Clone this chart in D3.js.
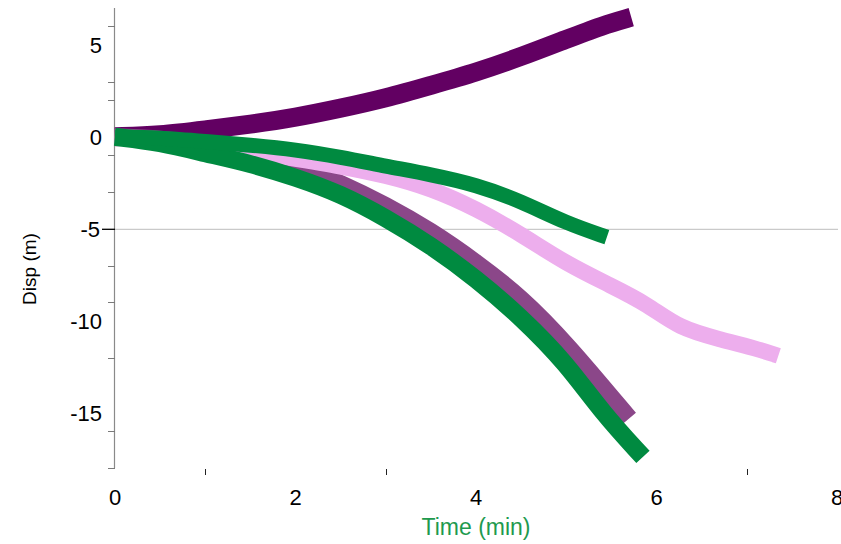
<!DOCTYPE html>
<html>
<head>
<meta charset="utf-8">
<script src="https://cdn.jsdelivr.net/npm/d3@7"></script>
<style>
  body { margin: 0; background: #fff; }
  text { font-family: "Liberation Sans", Arial, sans-serif; }
</style>
</head>
<body>
<div id="chart"></div>
<script>
// Data: [time (min), displacement (m)]
var darkPurple = [[0, 0], [0.5, 0.08], [1, 0.38], [1.5, 0.68], [2, 1.05], [2.5, 1.55], [3, 2.1],
  [3.5, 2.8], [4, 3.5], [4.5, 4.35], [5, 5.3], [5.4, 6.05], [5.72, 6.5]];
var greenUpper = [[0, 0], [0.5, -0.05], [1, -0.25], [1.5, -0.45], [2, -0.7], [2.5, -1.1], [3, -1.6],
  [3.5, -2.05], [4, -2.6], [4.5, -3.5], [5, -4.7], [5.45, -5.45]];
var mediumPurple = [[0, 0], [0.5, -0.1], [1, -0.4], [1.5, -0.85], [2, -1.5], [2.5, -2.5], [3, -3.7],
  [3.5, -5.1], [4, -6.8], [4.5, -8.7], [5, -11.2], [5.7, -15.3]];
var greenLower = [[0, 0], [0.5, -0.3], [1, -0.9], [1.5, -1.45], [2, -2.2], [2.5, -3.1], [3, -4.4],
  [3.5, -5.9], [4, -7.7], [4.5, -9.8], [5, -12.3], [5.4, -15.0], [5.85, -17.4]];
var pink = [[0, 0], [1, -0.4], [2, -1.2], [2.5, -1.6], [3, -2.1], [3.5, -2.8], [4, -3.9],
  [4.5, -5.3], [5, -6.9], [5.5, -8.1], [5.9, -9.1], [6.25, -10.4], [6.7, -11.0], [7.1, -11.5], [7.35, -11.9]];

// Axis ticks and labels (ticks and labels sit at different values in the original)
var xTickValues = [1, 3, 7];
var xLabelValues = [0, 2, 4, 6, 8];
var yTickValues = [6, 3, 2, -1, -3, -7, -9, -12, -16, -18];
var yLabelValues = [5, 0, -5, -10, -15];
var refLine = -5;

var svgWidth = 841;
var svgHeight = 544;

var svg = d3.select("#chart")
  .append("svg")
  .attr("width", svgWidth)
  .attr("height", svgHeight);

var xScale = d3.scaleLinear().domain([0, 8]).range([115, 837]);
var yScale = d3.scaleLinear().domain([-18, 7]).range([468, 8]);

// reference line at -5
svg.append("line")
  .attr("x1", xScale(0))
  .attr("x2", 838)
  .attr("y1", yScale(refLine) + 0.5)
  .attr("y2", yScale(refLine) + 0.5)
  .attr("stroke", "#bdbdbd")
  .attr("stroke-width", 1);

// y axis line
svg.append("line")
  .attr("x1", xScale(0) - 0.5)
  .attr("x2", xScale(0) - 0.5)
  .attr("y1", yScale(7))
  .attr("y2", yScale(-18))
  .attr("stroke", "#8a8a8a")
  .attr("stroke-width", 1.2);

// y ticks (gray, short)
svg.selectAll(".ytick")
  .data(yTickValues)
  .enter()
  .append("line")
  .attr("x1", xScale(0) - 7)
  .attr("x2", xScale(0))
  .attr("y1", d => Math.round(yScale(d)) + 0.5)
  .attr("y2", d => Math.round(yScale(d)) + 0.5)
  .attr("stroke", "#7a7a7a")
  .attr("stroke-width", 1);

// longer black tick at -5
svg.append("line")
  .attr("x1", xScale(0) - 13)
  .attr("x2", xScale(0))
  .attr("y1", yScale(refLine) + 0.5)
  .attr("y2", yScale(refLine) + 0.5)
  .attr("stroke", "#000")
  .attr("stroke-width", 1.3);

// y labels
svg.selectAll(".ylabel")
  .data(yLabelValues)
  .enter()
  .append("text")
  .attr("x", d => d === refLine ? 100 : 102)
  .attr("y", d => yScale(d) + 8)
  .attr("text-anchor", "end")
  .attr("font-size", 22)
  .attr("fill", "#000")
  .text(d => d);

// x ticks (small, below)
svg.selectAll(".xtick")
  .data(xTickValues)
  .enter()
  .append("line")
  .attr("x1", d => Math.round(xScale(d)) + 0.5)
  .attr("x2", d => Math.round(xScale(d)) + 0.5)
  .attr("y1", 469)
  .attr("y2", 475)
  .attr("stroke", "#222")
  .attr("stroke-width", 1);

// x labels
svg.selectAll(".xlabel")
  .data(xLabelValues)
  .enter()
  .append("text")
  .attr("x", d => xScale(d))
  .attr("y", 505)
  .attr("text-anchor", "middle")
  .attr("font-size", 22)
  .attr("fill", "#000")
  .text(d => d);

// axis titles
svg.append("text")
  .attr("x", xScale(4))
  .attr("y", 535)
  .attr("text-anchor", "middle")
  .attr("font-size", 23)
  .attr("fill", "#1e9a4e")
  .text("Time (min)");

svg.append("text")
  .attr("transform", "translate(36, 269) rotate(-90)")
  .attr("text-anchor", "middle")
  .attr("font-size", 19)
  .attr("fill", "#000")
  .text("Disp (m)");

// curves
var line = d3.line()
  .x(d => xScale(d[0]))
  .y(d => yScale(d[1]))
  .curve(d3.curveBasis);

var series = [
  { data: darkPurple, color: "#620062", width: 19 },
  { data: mediumPurple, color: "#8b4789", width: 17 },
  { data: pink, color: "#edaeed", width: 16 },
  { data: greenLower, color: "#008a40", width: 18 },
  { data: greenUpper, color: "#008a40", width: 15 }
];

svg.selectAll(".curve")
  .data(series)
  .enter()
  .append("path")
  .attr("class", "curve")
  .attr("d", d => line(d.data))
  .attr("fill", "none")
  .attr("stroke", d => d.color)
  .attr("stroke-width", d => d.width)
  .attr("stroke-linecap", "butt")
  .attr("stroke-linejoin", "round");
</script>
</body>
</html>
